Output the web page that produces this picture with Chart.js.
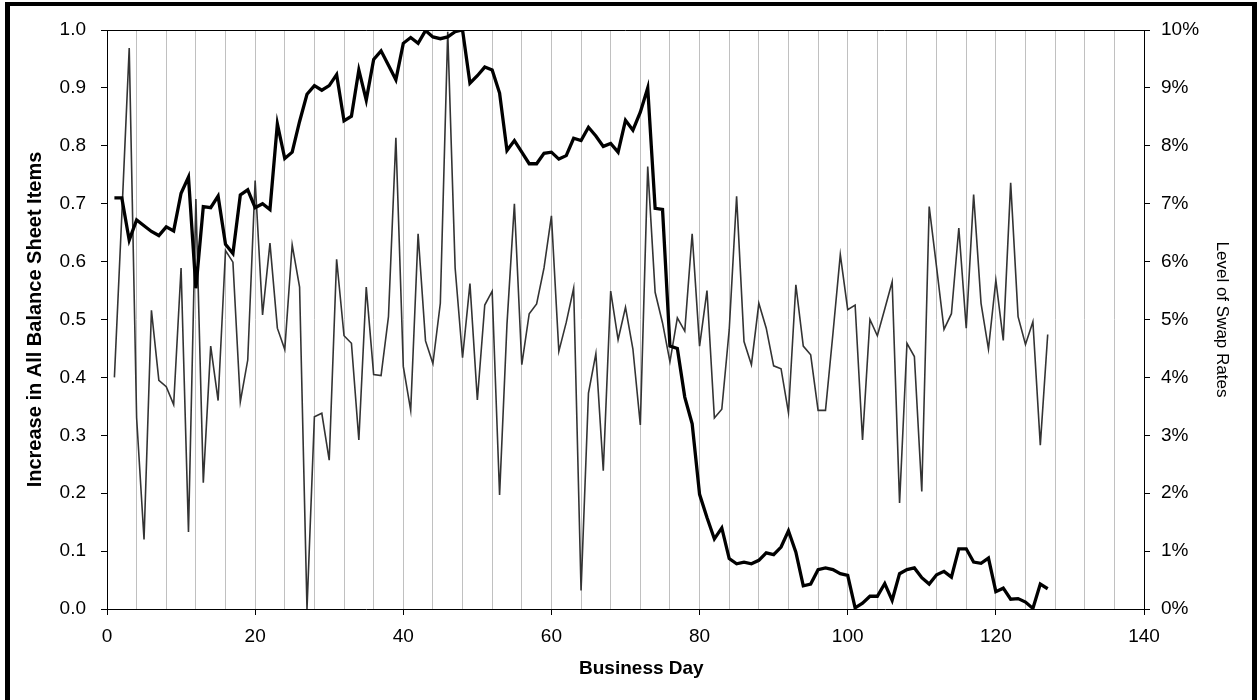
<!DOCTYPE html>
<html>
<head>
<meta charset="utf-8">
<script src="https://cdn.jsdelivr.net/npm/chart.js@4.4.1/dist/chart.umd.min.js"></script>
<style>
  html, body { margin: 0; padding: 0; background: #fff; overflow: hidden; }
  #wrap { position: relative; width: 1259px; height: 700px; }
  #frame {
    position: absolute; left: 5px; top: 2px; width: 1242px; height: 760px;
    border-left: 5px solid #000; border-top: 4px solid #000; border-right: 5px solid #000;
    pointer-events: none;
  }
</style>
</head>
<body>
<div id="wrap">
  <canvas id="chart"></canvas>
  <div id="frame"></div>
</div>
<script>
// Business days 1..127
const days = [];
for (let d = 1; d <= 127; d++) days.push(d);

// Increase in All Balance Sheet Items (left axis, thin line)
const balanceItems = [
  0.40, 0.68, 0.969, 0.33, 0.12, 0.516, 0.395, 0.384, 0.353, 0.589,
  0.133, 0.708, 0.218, 0.454, 0.36, 0.619, 0.599, 0.358, 0.43, 0.74,
  0.508, 0.632, 0.485, 0.448, 0.629, 0.556, 0.0, 0.332, 0.338, 0.257,
  0.604, 0.472, 0.459, 0.292, 0.556, 0.405, 0.403, 0.505, 0.814, 0.419,
  0.343, 0.648, 0.463, 0.424, 0.528, 0.997, 0.589, 0.434, 0.562, 0.361,
  0.525, 0.549, 0.197, 0.492, 0.70, 0.422, 0.51, 0.527, 0.589, 0.679,
  0.445, 0.495, 0.554, 0.032, 0.373, 0.441, 0.239, 0.549, 0.465, 0.521,
  0.449, 0.318, 0.764, 0.547, 0.494, 0.427, 0.503, 0.48, 0.648, 0.454,
  0.55, 0.33, 0.345, 0.482, 0.713, 0.462, 0.422, 0.528, 0.485, 0.42,
  0.415, 0.339, 0.56, 0.454, 0.439, 0.343, 0.343, 0.475, 0.612, 0.517,
  0.525, 0.292, 0.50, 0.472, 0.518, 0.565, 0.183, 0.459, 0.436, 0.203,
  0.695, 0.59, 0.483, 0.51, 0.658, 0.485, 0.716, 0.528, 0.449, 0.568,
  0.464, 0.736, 0.505, 0.457, 0.496, 0.283, 0.474
];

// Level of Swap Rates in % (right axis, thick line)
const swapRates = [
  7.1, 7.1, 6.37, 6.72, 6.62, 6.52, 6.45, 6.6, 6.53, 7.18,
  7.46, 5.54, 6.95, 6.93, 7.13, 6.3, 6.14, 7.15, 7.24, 6.93,
  7.0, 6.9, 8.38, 7.78, 7.89, 8.42, 8.89, 9.04, 8.96, 9.04,
  9.23, 8.43, 8.51, 9.31, 8.79, 9.49, 9.64, 9.39, 9.14, 9.77,
  9.87, 9.77, 9.99, 9.88, 9.85, 9.88, 9.97, 10.0, 9.08, 9.21,
  9.36, 9.31, 8.91, 7.92, 8.09, 7.89, 7.69, 7.69, 7.87, 7.89,
  7.77, 7.83, 8.13, 8.09, 8.32, 8.17, 7.99, 8.04, 7.89, 8.44,
  8.27, 8.58, 9.0, 6.92, 6.90, 4.54, 4.5, 3.66, 3.2, 1.98,
  1.58, 1.21, 1.4, 0.87, 0.78, 0.81, 0.78, 0.84, 0.97, 0.94,
  1.07, 1.35, 0.98, 0.40, 0.43, 0.68, 0.71, 0.68, 0.61, 0.58,
  0.02, 0.10, 0.22, 0.22, 0.44, 0.15, 0.61, 0.68, 0.71, 0.54,
  0.43, 0.59, 0.65, 0.55, 1.04, 1.04, 0.81, 0.79, 0.88, 0.30,
  0.36, 0.17, 0.18, 0.12, 0.01, 0.43, 0.35
];

// axis ranges
const xMax = 140;
const leftMax = 1.0;
const rightMax = 10;

const family = "'Liberation Sans', Arial, sans-serif";
const tickFont = { family: family, size: 19 };

// thin black line along the top of the plot area
const topLine = {
  id: 'topLine',
  afterDraw(chart) {
    const { ctx, chartArea } = chart;
    ctx.save();
    ctx.strokeStyle = '#000';
    ctx.lineWidth = 1;
    ctx.beginPath();
    ctx.moveTo(chartArea.left, chartArea.top + 0.5);
    ctx.lineTo(chartArea.right, chartArea.top + 0.5);
    ctx.stroke();
    ctx.restore();
  }
};

new Chart(document.getElementById('chart'), {
  type: 'line',
  data: {
    datasets: [
      {
        label: 'Level of Swap Rates',
        data: days.map((d, i) => ({ x: d, y: swapRates[i] })),
        yAxisID: 'yRight',
        borderColor: '#000',
        borderWidth: 3.3,
        pointRadius: 0,
        tension: 0
      },
      {
        label: 'Increase in All Balance Sheet Items',
        data: days.map((d, i) => ({ x: d, y: balanceItems[i] })),
        yAxisID: 'y',
        borderColor: '#333',
        borderWidth: 1.6,
        pointRadius: 0,
        tension: 0
      }
    ]
  },
  options: {
    responsive: true,
    maintainAspectRatio: false,
    animation: false,
    layout: { padding: { top: 30, left: 0, right: 0, bottom: 0 } },
    plugins: { legend: { display: false }, tooltip: { enabled: false } },
    scales: {
      x: {
        type: 'linear',
        min: 0,
        max: xMax,
        afterFit: (s) => { s.height = 91; },
        ticks: {
          stepSize: 4,
          autoSkip: false,
          maxRotation: 0,
          padding: 10,
          color: '#000',
          font: tickFont,
          callback: (v) => (v % 20 === 0 ? v : '')
        },
        grid: {
          color: (c) => (c.tick && c.tick.value > 0 && c.tick.value < xMax ? '#c0c0c0' : 'rgba(0,0,0,0)'),
          tickColor: (c) => (c.tick && c.tick.value % 20 === 0 ? '#000' : 'rgba(0,0,0,0)'),
          tickLength: 6,
          lineWidth: 1
        },
        border: { color: '#000', width: 1 },
        title: {
          display: true,
          text: '      Business Day',
          color: '#000',
          font: { family: family, size: 19, weight: 'bold' },
          padding: { top: 0, bottom: 20 }
        }
      },
      y: {
        position: 'left',
        min: 0,
        max: leftMax,
        afterFit: (s) => { s.width = 107; },
        ticks: {
          stepSize: 0.1,
          padding: 15,
          color: '#000',
          font: tickFont,
          callback: (v) => v.toFixed(1)
        },
        grid: { drawOnChartArea: false, tickLength: 6, tickColor: '#000' },
        border: { color: '#000', width: 1 },
        title: {
          display: true,
          text: 'Increase in All Balance Sheet Items',
          color: '#000',
          font: { family: family, size: 20, weight: 'bold' },
          padding: { top: 23, bottom: 0 }
        }
      },
      yRight: {
        position: 'right',
        min: 0,
        max: rightMax,
        afterFit: (s) => { s.width = 115; },
        ticks: {
          stepSize: 1,
          padding: 11,
          color: '#000',
          font: tickFont,
          callback: (v) => v + '%'
        },
        grid: { drawOnChartArea: false, tickLength: 6, tickColor: '#000' },
        border: { color: '#000', width: 1 },
        title: {
          display: true,
          text: 'Level of Swap Rates',
          color: '#000',
          font: { family: family, size: 17 },
          padding: { top: 27, bottom: 0 }
        }
      }
    }
  },
  plugins: [topLine]
});
</script>
</body>
</html>
